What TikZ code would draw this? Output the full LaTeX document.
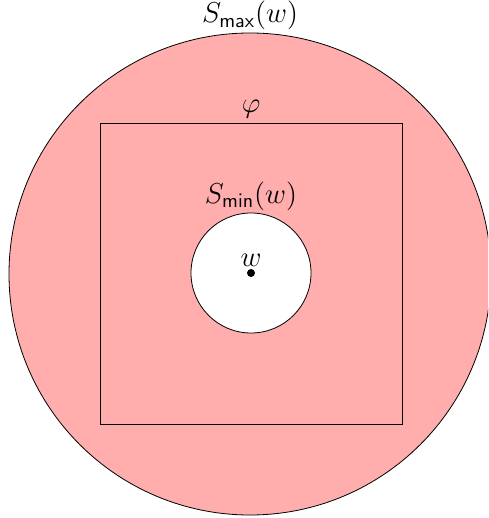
\documentclass[tikz,border=0pt]{standalone}
\usepackage{tikz}
\usetikzlibrary{positioning}
\definecolor{regionpink}{RGB}{255,173,173}
\tikzset{
  region/.style={circle, draw=black, thin, inner sep=0pt},
  frame/.style={draw=black, thin},
  lbl/.style={font=\fontsize{13.6}{16}\selectfont, inner sep=1pt},
  pt/.style={circle, fill=black, inner sep=0pt, minimum size=4pt}
}
\begin{document}
\begin{tikzpicture}[x=0.5pt,y=-0.5pt]
  \clip (0,0) rectangle (488,518);
  \useasboundingbox (0,0) rectangle (488,518);
  % outer region
  \node[region, fill=regionpink, minimum size=241pt] (smax) at (250,274) {};
  \node[lbl, above=0pt of smax.north] (smaxlbl) {$S_{\mathsf{max}}(w)$};
  % formula box
  \draw[frame] (100,123) rectangle (402,424);
  \coordinate (phitop) at (251,123);
  \node[lbl, above=1pt of phitop] (philbl) {$\varphi$};
  % inner region
  \node[region, fill=white, minimum size=60pt] (smin) at (251,273) {};
  \node[lbl, above=0pt of smin.north] (sminlbl) {$S_{\mathsf{min}}(w)$};
  \node[pt] (w) at (251,273) {};
  \node[lbl, above=0pt of w] (wlbl) {$w$};
\end{tikzpicture}
\end{document}
